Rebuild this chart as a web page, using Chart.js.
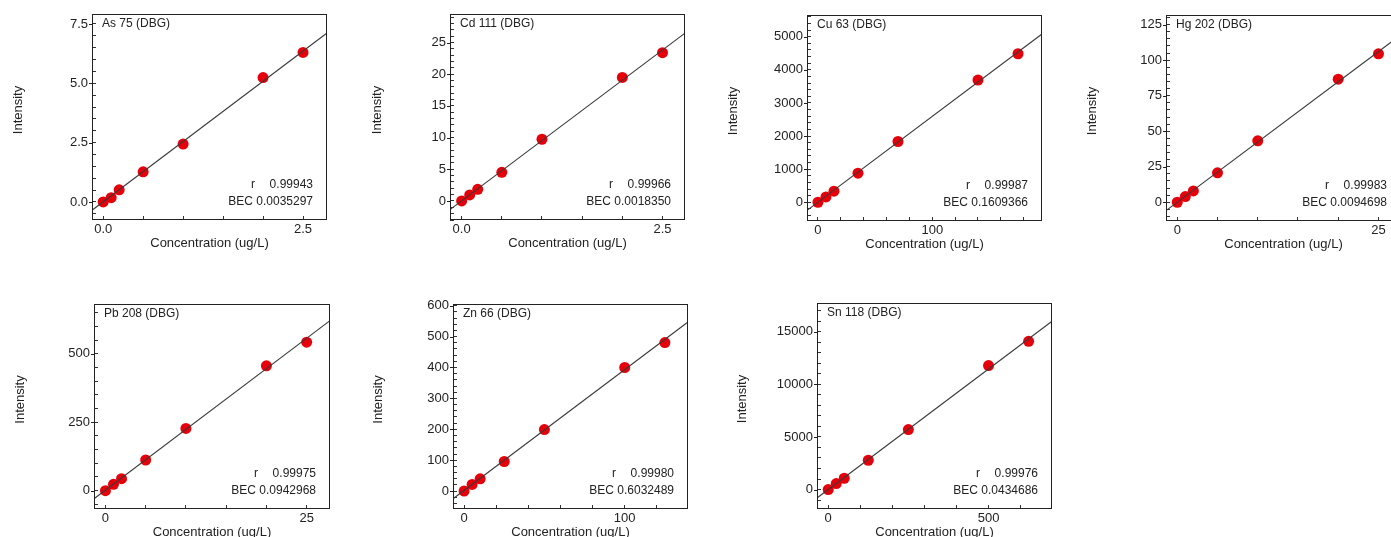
<!DOCTYPE html>
<html>
<head>
<meta charset="utf-8">
<script src="https://cdn.jsdelivr.net/npm/chart.js@4.4.0/dist/chart.umd.min.js"></script>
<style>
  html, body { margin: 0; padding: 0; background: #fff; overflow: hidden; }
  body { width: 1391px; height: 537px; position: relative; }
</style>
</head>
<body>
<script>
// calibration points (concentration ug/L, intensity)
const asConc = [0, 0.1, 0.2, 0.5, 1, 2, 2.5];
const asInt  = [0, 0.18, 0.51, 1.27, 2.44, 5.24, 6.30];
const cdConc = [0, 0.1, 0.2, 0.5, 1, 2, 2.5];
const cdInt  = [0, 0.95, 1.84, 4.53, 9.74, 19.5, 23.4];
const cuConc = [0, 7, 14, 35, 70, 140, 175];
const cuInt  = [0, 161, 333, 877, 1835, 3690, 4486];
const hgConc = [0, 1, 2, 5, 10, 20, 25];
const hgInt  = [0, 4.0, 8.0, 20.7, 43.2, 86.6, 104.5];
const pbConc = [0, 1, 2, 5, 10, 20, 25];
const pbInt  = [0, 23, 43.8, 112, 227.5, 456, 542.6];
const znConc = [0, 5, 10, 25, 50, 100, 125];
const znInt  = [0, 21.5, 39.8, 95.7, 199, 400, 480.6];
const snConc = [0, 25, 50, 125, 250, 500, 625];
const snInt  = [0, 570, 1076, 2785, 5696, 11772, 14082];

const elements = ['As 75 (DBG)', 'Cd 111 (DBG)', 'Cu 63 (DBG)', 'Hg 202 (DBG)', 'Pb 208 (DBG)', 'Zn 66 (DBG)', 'Sn 118 (DBG)'];
const rValues = ['0.99943', '0.99966', '0.99987', '0.99983', '0.99975', '0.99980', '0.99976'];
const becValues = ['0.0035297', '0.0018350', '0.1609366', '0.0094698', '0.0942968', '0.6032489', '0.0434686'];
const fitSlope = [2.54, 9.52, 25.9, 4.24, 22.2, 3.91, 22.9];
const fitIntercept = [0.009, 0.017, 4.2, 0.04, 2.1, 2.36, 1.0];

const concs = [asConc, cdConc, cuConc, hgConc, pbConc, znConc, snConc];
const ints = [asInt, cdInt, cuInt, hgInt, pbInt, znInt, snInt];

// axis ranges: [min, max, major step, decimals]
const xAxes = [
  [-0.14, 2.8, 2.5, 1], [-0.145, 2.78, 2.5, 1], [-9.6, 196, 100, 0], [-1.4, 27.8, 25, 0],
  [-1.42, 27.9, 25, 0], [-6.9, 139.4, 100, 0], [-35, 698, 500, 0]
];
const yAxes = [
  [-0.76, 7.92, 2.5, 1], [-3.0, 29.5, 5, 0], [-566, 5656, 1000, 0], [-13.2, 131.8, 25, 0],
  [-67, 682, 250, 0], [-58, 605.5, 100, 0], [-1842, 17715, 5000, 0]
];

// plot box placement on the page
const boxes = [
  { l: 92,   t: 14,  w: 235, h: 206, tx: 18 },
  { l: 450,  t: 14,  w: 235, h: 206, tx: 377 },
  { l: 807,  t: 15,  w: 235, h: 206, tx: 733 },
  { l: 1166, t: 15,  w: 235, h: 206, tx: 1092 },
  { l: 94,   t: 304, w: 236, h: 205, tx: 20 },
  { l: 453,  t: 304, w: 235, h: 205, tx: 378 },
  { l: 817,  t: 303, w: 235, h: 206, tx: 742 }
];

Chart.defaults.font.family = '"Liberation Sans", Arial, sans-serif';
Chart.defaults.color = '#222';

function tickList(min, max, major) {
  const step = major / 5;
  const out = [];
  for (let k = Math.ceil(min / step - 1e-9); k * step <= max + 1e-9; k++) {
    out.push({ value: +(k * step).toFixed(6) });
  }
  return out;
}

function isMajor(v, major) {
  const q = v / major;
  return Math.abs(q - Math.round(q)) < 1e-6;
}

function axisOpts(ax, title, isX) {
  const [min, max, major, dec] = ax;
  return {
    type: 'linear',
    position: isX ? 'bottom' : 'left',
    min: min,
    max: max,
    bounds: 'data',
    afterBuildTicks: (scale) => { scale.ticks = tickList(min, max, major); },
    border: { display: false },
    grid: { drawOnChartArea: false, drawTicks: true, tickLength: -4, color: '#333', tickColor: '#333' },
    ticks: {
      autoSkip: false,
      maxRotation: 0,
      padding: isX ? 6 : 8,
      font: { size: 13 },
      color: '#222',
      callback: (v) => isMajor(v, major) ? Number(v).toFixed(dec) : ''
    },
    title: { display: isX, text: title, font: { size: 13 }, color: '#222', padding: 0 }
  };
}

const boxText = {
  id: 'boxText',
  afterDatasetsDraw(chart, args, opts) {
    const { ctx, chartArea: a } = chart;
    ctx.save();
    ctx.font = '12px "Liberation Sans", Arial, sans-serif';
    ctx.fillStyle = '#222';
    ctx.textBaseline = 'middle';
    ctx.textAlign = 'left';
    ctx.fillText(opts.name, a.left + 10, a.top + 10);
    ctx.fillText('r', a.right - 76, a.bottom - 35);
    ctx.textAlign = 'right';
    ctx.fillText(opts.r, a.right - 14, a.bottom - 35);
    ctx.fillText('BEC ' + opts.bec, a.right - 14, a.bottom - 18);

    // plot frame
    ctx.strokeStyle = '#222';
    ctx.lineWidth = 1;
    ctx.strokeRect(a.left + 0.5, a.top + 0.5, a.width - 1, a.height - 1);

    // short outer stubs on the major y ticks
    const ys = chart.scales.y;
    ctx.beginPath();
    ys.ticks.forEach((t) => {
      if (t.label !== '') {
        const py = Math.round(ys.getPixelForValue(t.value)) + 0.5;
        ctx.moveTo(a.left - 3, py);
        ctx.lineTo(a.left + 1, py);
      }
    });
    ctx.stroke();

    // y axis title, set a bit above the box centre like the original
    ctx.font = '13px "Liberation Sans", Arial, sans-serif';
    ctx.textAlign = 'center';
    ctx.translate(opts.titleX, (a.top + a.bottom) / 2 - 7);
    ctx.rotate(-Math.PI / 2);
    ctx.fillText('Intensity', 0, 0);
    ctx.restore();
  }
};

function makeChart(i) {
  const b = boxes[i];
  const left = b.tx - 8;
  const top = b.t - 20;
  const yw = b.l - left;
  const cw = yw + b.w + 20;
  const ch = 20 + b.h + 31;

  const canvas = document.createElement('canvas');
  canvas.width = cw;
  canvas.height = ch;
  canvas.style.cssText = 'position:absolute;left:' + left + 'px;top:' + top + 'px;width:' + cw + 'px;height:' + ch + 'px';
  document.body.appendChild(canvas);

  const pts = concs[i].map((c, k) => ({ x: c, y: ints[i][k] }));
  const x0 = xAxes[i][0], x1 = xAxes[i][1];
  const fit = [
    { x: x0, y: fitSlope[i] * x0 + fitIntercept[i] },
    { x: x1, y: fitSlope[i] * x1 + fitIntercept[i] }
  ];

  const xScale = axisOpts(xAxes[i], 'Concentration (ug/L)', true);
  xScale.afterFit = (scale) => { scale.height = 31; };
  const yScale = axisOpts(yAxes[i], 'Intensity', false);
  yScale.afterFit = (scale) => { scale.width = yw; };

  new Chart(canvas.getContext('2d'), {
    type: 'scatter',
    data: {
      datasets: [
        {
          data: fit,
          showLine: true,
          borderColor: '#3a3a3a',
          borderWidth: 1.1,
          pointRadius: 0,
          order: 0
        },
        {
          data: pts,
          pointRadius: 5.5,
          pointBackgroundColor: '#e6000a',
          pointBorderWidth: 0,
          order: 1
        }
      ]
    },
    options: {
      responsive: false,
      animation: false,
      layout: { padding: { left: 0, top: 20, right: 20, bottom: 0 } },
      plugins: {
        legend: { display: false },
        tooltip: { enabled: false },
        boxText: { name: elements[i], r: rValues[i], bec: becValues[i], titleX: 8 }
      },
      scales: { x: xScale, y: yScale }
    },
    plugins: [boxText]
  });
}

for (let i = 0; i < boxes.length; i++) makeChart(i);
</script>
</body>
</html>
